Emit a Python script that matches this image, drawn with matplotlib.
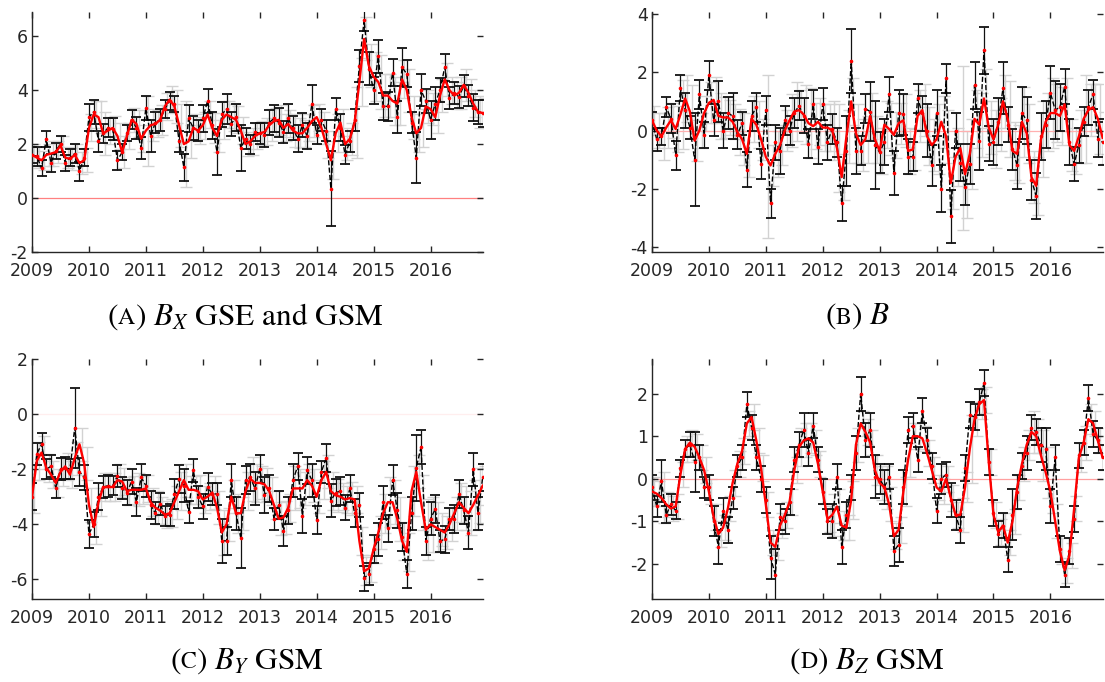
import numpy as np
import matplotlib
matplotlib.use("Agg")
import matplotlib.pyplot as plt
from matplotlib.offsetbox import TextArea, HPacker, AnnotationBbox

plt.rcParams["mathtext.fontset"] = "stix"

# monthly time grid, 2009.0 .. 2016.92
t = 2009 + np.arange(96) / 12.0
year_ticks = [2009, 2010, 2011, 2012, 2013, 2014, 2015, 2016]

# (A) Bx GSE and GSM
bx_smooth = [1.6, 1.5, 1.4, 1.6, 1.65, 1.7, 1.95, 1.5, 1.45, 1.6, 1.3, 1.4,
             2.6, 3.1, 3.0, 2.4, 2.5, 2.6, 2.3, 1.7, 2.3, 2.9, 2.75, 2.2,
             2.5, 2.7, 2.75, 2.9, 3.4, 3.65, 3.4, 2.7, 2.0, 2.1, 2.6, 2.5,
             2.7, 3.1, 2.6, 2.3, 2.9, 3.1, 3.0, 2.9, 2.5, 2.0, 2.1, 2.3,
             2.4, 2.45, 2.7, 2.85, 2.9, 2.6, 2.75, 2.5, 2.4, 2.4, 2.6, 2.85,
             3.0, 2.6, 2.0, 1.4, 2.4, 2.8, 2.0, 2.2, 2.8, 4.3, 5.9, 4.9,
             4.5, 4.3, 3.8, 3.8, 3.6, 3.5, 4.4, 4.0, 3.0, 2.4, 2.6, 3.4,
             3.3, 3.0, 3.8, 4.4, 4.0, 3.8, 3.9, 4.2, 3.9, 3.5, 3.2, 3.15]
bx_raw = [1.6, 1.55, 1.1, 2.2, 1.3, 1.75, 2.0, 1.3, 1.5, 1.65, 1.0, 1.5,
          3.0, 3.2, 2.1, 2.4, 2.6, 2.55, 1.4, 1.7, 2.4, 2.9, 2.6, 1.85,
          3.35, 2.3, 2.8, 2.9, 3.3, 3.6, 3.5, 2.1, 1.15, 2.95, 2.6, 2.5,
          2.95, 3.6, 2.7, 1.7, 3.1, 3.3, 2.75, 3.0, 1.85, 2.2, 2.0, 2.45,
          2.4, 2.35, 2.8, 2.95, 2.8, 2.45, 2.95, 2.6, 2.2, 2.7, 2.3, 3.5,
          2.35, 2.9, 2.5, 0.35, 3.3, 2.6, 1.6, 2.1, 2.9, 4.9, 6.6, 4.8,
          4.0, 5.25, 3.4, 3.4, 4.65, 3.0, 4.85, 4.6, 2.8, 1.5, 4.0, 3.6,
          2.9, 3.5, 4.0, 4.85, 3.7, 3.9, 3.75, 4.15, 3.8, 3.35, 3.2, 3.15]
bx_err = [0.3, 0.35, 0.3, 0.3, 0.35, 0.3, 0.3, 0.3, 0.3, 0.35, 0.35, 0.3,
          0.5, 0.45, 0.4, 0.35, 0.35, 0.4, 0.35, 0.3, 0.3, 0.35, 0.4, 0.4,
          0.45, 0.6, 0.4, 0.4, 0.35, 0.35, 0.3, 0.4, 0.5, 0.5, 0.45, 0.4,
          0.5, 0.45, 0.5, 0.85, 0.45, 0.55, 0.45, 0.5, 0.85, 0.4, 0.35, 0.35,
          0.4, 0.45, 0.45, 0.5, 0.55, 0.4, 0.55, 0.45, 0.5, 0.45, 0.5, 0.7,
          0.35, 0.4, 0.4, 1.4, 0.4, 0.5, 0.35, 0.4, 0.4, 0.6, 0.4, 0.6,
          0.5, 0.6, 0.5, 0.55, 0.5, 0.6, 0.7, 0.5, 0.4, 0.95, 0.6, 0.45,
          0.7, 0.6, 0.45, 0.5, 0.4, 0.4, 0.4, 0.4, 0.4, 0.5, 0.45, 0.5]
bx_err2 = [0.4, 0.4, 0.35, 0.4, 0.45, 0.4, 0.35, 0.4, 0.4, 0.4, 0.4, 0.45,
           0.5, 0.5, 0.6, 0.8, 0.5, 0.45, 0.5, 0.6, 0.5, 0.45, 0.5, 0.5,
           1.3, 0.6, 0.5, 0.55, 0.5, 0.5, 0.6, 0.8, 1.6, 0.6, 0.5, 0.5,
           0.5, 0.5, 0.55, 0.6, 0.7, 0.5, 0.5, 0.5, 0.5, 0.45, 0.5, 0.5,
           0.45, 0.5, 0.6, 0.5, 0.55, 0.5, 0.5, 0.6, 0.55, 0.5, 0.5, 0.6,
           0.5, 0.6, 0.5, 0.7, 0.7, 0.5, 0.6, 0.6, 1.3, 0.9, 0.8, 0.8,
           0.9, 1.0, 0.8, 0.8, 0.9, 0.8, 0.7, 0.8, 0.8, 0.7, 0.7, 0.6,
           0.6, 0.6, 0.6, 0.6, 0.5, 0.5, 0.6, 0.6, 0.5, 0.5, 0.6, 0.55]

# (B) B
b_smooth = [0.35, 0.0, -0.2, 0.1, 0.35, 0.05, 0.55, 1.1, 0.65, -0.35, 0.0, 0.6,
            0.95, 1.05, 0.5, 0.45, 0.45, 0.3, -0.05, -0.3, -0.8, 0.4, 0.2, -0.3,
            -0.9, -1.2, -0.8, -0.5, 0.0, 0.35, 0.65, 0.7, 0.55, 0.25, 0.15, 0.3,
            0.1, 0.1, 0.0, -0.6, -1.6, -0.2, 1.0, -0.1, -0.5, -0.3, 0.5, -0.3,
            -0.7, 0.2, 0.05, -0.15, 0.25, 0.35, -0.7, -0.65, 0.5, 0.7, -0.2, -0.5,
            -0.3, 0.3, -0.2, -1.8, -0.9, -0.6, -1.5, -0.8, 0.4, 0.2, 1.1, 0.1,
            -0.3, 0.2, 1.0, 0.4, -0.7, -0.8, 0.3, -0.1, -1.6, -1.9, -0.3, 0.3,
            0.6, 0.6, 0.5, 0.9, -0.5, -0.7, -0.2, 0.4, 0.7, 0.8, 0.4, -0.25]
b_raw = [0.35, -0.3, -0.2, 0.8, 0.4, -0.85, 1.45, 0.7, 0.1, -1.0, 1.25, -0.15,
         1.9, 0.35, 1.0, 0.0, 0.6, 0.5, -0.15, 0.25, -1.35, 0.5, 0.8, -1.15,
         0.7, -2.5, -0.4, -0.7, 0.35, 0.0, 0.6, 0.85, 0.5, -0.45, 0.9, -0.55,
         0.9, -0.4, 0.05, -0.4, -2.5, -0.7, 2.4, -0.7, -0.7, 0.75, 0.65, -0.5,
         -0.75, -0.4, 1.25, -1.45, 0.6, 0.55, -0.9, -0.9, 1.1, 0.6, 0.0, -1.2,
         0.6, -2.0, 1.8, -2.95, 0.0, -1.1, -1.95, -1.15, 1.55, -0.35, 2.75, -0.45,
         -0.4, 0.3, 1.45, 0.2, -0.65, -1.2, 0.6, 0.35, -1.7, -2.25, -0.2, 0.2,
         1.3, 0.7, 0.8, 1.5, -0.4, -1.15, -0.5, 0.3, 0.8, 1.25, -0.3, -0.4]
b_err = [0.3, 0.4, 0.3, 0.35, 0.5, 0.5, 0.45, 0.6, 0.4, 1.6, 0.5, 0.45,
         0.5, 0.55, 0.7, 0.6, 0.55, 0.8, 0.5, 0.4, 0.6, 0.5, 0.5, 0.5,
         0.5, 0.5, 0.6, 0.8, 0.5, 0.5, 0.5, 0.5, 0.6, 0.5, 0.5, 0.6,
         0.55, 0.6, 0.5, 0.5, 0.6, 1.2, 1.1, 0.8, 0.5, 0.5, 1.0, 1.5,
         0.7, 0.8, 0.6, 0.75, 0.8, 0.7, 0.6, 0.5, 0.5, 0.6, 0.9, 0.7,
         0.8, 0.8, 0.5, 0.9, 0.6, 0.65, 0.6, 0.7, 0.8, 1.0, 0.8, 0.6,
         0.8, 0.8, 0.9, 0.6, 0.7, 0.8, 0.9, 0.8, 0.7, 0.8, 0.8, 0.8,
         0.9, 1.0, 0.8, 0.6, 0.8, 0.6, 0.6, 0.5, 0.6, 0.5, 0.6, 0.8]
b_err2 = [0.5, 0.6, 0.8, 0.7, 0.6, 0.8, 1.2, 0.8, 0.9, 0.7, 0.6, 0.6,
          0.7, 0.8, 0.8, 0.7, 0.6, 0.6, 0.8, 0.9, 0.8, 0.8, 0.8, 0.7,
          2.8, 0.7, 0.8, 0.7, 0.7, 0.9, 1.0, 0.7, 1.0, 1.2, 0.8, 0.8,
          0.8, 0.8, 1.0, 1.5, 0.8, 0.9, 0.8, 1.0, 0.9, 0.8, 0.8, 0.8,
          0.8, 0.8, 0.9, 0.8, 0.7, 0.9, 0.8, 0.7, 0.9, 0.9, 1.0, 0.9,
          1.2, 0.9, 0.9, 0.9, 1.0, 2.8, 1.5, 1.2, 1.0, 1.1, 1.0, 0.9,
          1.0, 0.9, 0.9, 1.3, 1.0, 1.0, 1.2, 1.0, 0.9, 1.0, 1.3, 1.0,
          1.2, 1.0, 1.0, 0.9, 0.9, 0.8, 0.9, 1.5, 0.9, 0.8, 1.2, 0.9]

# (C) By GSM
by_smooth = [-3.0, -1.7, -1.4, -1.95, -2.2, -2.5, -2.1, -1.9, -2.2, -1.6, -1.1, -1.8,
             -3.3, -4.1, -3.2, -2.65, -2.65, -2.65, -2.4, -2.45, -2.8, -2.75, -2.75, -2.75,
             -2.7, -3.2, -3.4, -3.5, -3.65, -3.6, -3.2, -2.8, -2.4, -2.75, -2.75, -2.8,
             -3.1, -3.0, -2.85, -3.4, -4.3, -4.0, -3.0, -3.6, -3.6, -2.8, -2.35, -2.5,
             -2.5, -2.55, -2.8, -3.3, -3.8, -3.75, -3.4, -2.7, -2.7, -2.7, -2.4, -2.6,
             -3.0, -2.4, -2.1, -2.8, -2.95, -3.0, -3.1, -3.05, -3.1, -4.6, -5.7, -5.6,
             -4.9, -4.3, -3.6, -3.2, -3.2, -3.8, -4.6, -5.0, -2.8, -2.1, -3.2, -4.2,
             -4.0, -4.1, -4.2, -4.3, -4.0, -3.6, -3.2, -3.4, -3.6, -3.3, -2.95, -2.6]
by_raw = [-3.0, -1.45, -1.1, -2.0, -1.9, -2.7, -2.0, -1.95, -2.0, -0.5, -2.1, -2.3,
          -4.35, -4.0, -3.0, -2.65, -2.6, -2.6, -2.25, -2.7, -2.85, -2.45, -3.2, -2.3,
          -2.6, -3.3, -3.6, -3.25, -3.7, -3.65, -2.9, -2.35, -2.6, -3.55, -2.05, -3.0,
          -3.35, -2.65, -2.9, -2.9, -4.6, -4.6, -2.4, -3.6, -4.5, -2.4, -2.3, -2.7,
          -2.0, -2.95, -2.7, -3.8, -3.3, -4.25, -3.5, -2.4, -1.9, -3.7, -2.05, -2.4,
          -3.85, -2.1, -1.6, -3.15, -2.85, -2.8, -3.4, -2.7, -3.6, -3.3, -5.95, -5.8,
          -4.9, -4.55, -3.2, -4.15, -2.4, -3.5, -4.45, -5.8, -3.6, -1.95, -1.2, -4.6,
          -3.8, -3.45, -4.6, -4.55, -3.8, -3.8, -2.9, -3.5, -4.3, -2.0, -3.6, -2.3]
by_err = [0.5, 0.4, 0.4, 0.35, 0.4, 0.35, 0.4, 0.4, 0.35, 1.45, 0.5, 0.45,
          0.5, 0.45, 0.5, 0.4, 0.4, 0.35, 0.4, 0.4, 0.45, 0.45, 0.5, 0.5,
          0.4, 0.5, 0.4, 0.4, 0.35, 0.4, 0.55, 0.5, 0.6, 0.4, 0.4, 0.4,
          0.45, 0.5, 0.4, 0.4, 0.8, 0.5, 0.6, 0.6, 1.1, 0.5, 0.5, 0.6,
          0.5, 0.65, 0.5, 0.4, 0.5, 0.55, 0.5, 0.6, 0.5, 0.6, 0.5, 0.6,
          0.5, 0.4, 0.5, 0.6, 0.5, 0.5, 0.45, 0.5, 0.5, 0.45, 0.45, 0.4,
          0.5, 0.6, 0.6, 0.5, 0.55, 0.65, 0.5, 0.5, 0.6, 1.2, 0.6, 0.5,
          0.6, 0.5, 0.4, 0.5, 0.4, 0.5, 0.5, 0.5, 0.6, 0.6, 0.6, 0.5]
by_err2 = [0.6, 0.7, 0.6, 0.5, 0.5, 0.5, 0.5, 0.5, 0.5, 0.6, 0.6, 0.6,
           0.6, 0.6, 0.5, 0.5, 0.5, 0.5, 0.6, 0.5, 0.5, 0.5, 0.6, 0.5,
           0.5, 0.5, 0.6, 0.5, 0.5, 0.5, 0.6, 0.7, 0.6, 0.5, 0.5, 0.6,
           0.5, 0.5, 0.6, 0.6, 0.8, 0.6, 0.6, 0.7, 0.6, 0.7, 0.8, 0.7,
           0.6, 0.6, 0.5, 0.5, 0.6, 0.6, 0.5, 0.8, 0.7, 0.6, 0.6, 0.6,
           0.6, 0.7, 0.6, 0.7, 0.6, 0.5, 0.5, 0.6, 0.5, 0.5, 0.5, 0.5,
           0.5, 0.6, 0.7, 0.9, 0.8, 0.8, 0.7, 0.7, 0.9, 0.6, 1.0, 1.1,
           1.0, 0.9, 0.6, 0.6, 0.6, 0.6, 0.7, 0.8, 0.8, 0.9, 1.0, 0.7]

# (D) Bz GSM
bz_smooth = [-0.3, -0.35, -0.45, -0.6, -0.7, -0.65, 0.1, 0.7, 0.85, 0.75, 0.5, 0.2,
             -0.3, -0.9, -1.3, -1.15, -0.7, -0.1, 0.35, 0.65, 1.3, 1.45, 0.9, 0.25,
             -0.6, -1.5, -1.6, -1.1, -0.85, -0.55, 0.2, 0.75, 0.9, 0.95, 0.85, 0.35,
             -0.3, -0.95, -0.85, -0.65, -1.1, -1.15, -0.5, 0.8, 1.3, 1.1, 0.85, 0.2,
             -0.1, -0.2, -0.6, -1.35, -1.2, -0.3, 0.45, 1.0, 1.0, 0.95, 0.6, 0.2,
             -0.2, -0.3, 0.0, -0.45, -0.85, -0.85, -0.2, 0.7, 1.4, 1.75, 1.85, 0.4,
             -0.85, -1.25, -1.1, -1.5, -1.0, -0.2, 0.35, 0.8, 1.1, 1.0, 0.55, 0.15,
             -0.3, -1.0, -1.7, -2.15, -1.8, -0.7, 0.5, 0.85, 1.4, 1.3, 0.9, 0.5]
bz_raw = [-0.2, -0.65, -0.05, -0.85, -0.6, -0.75, 0.25, 0.7, 0.8, 0.4, 0.5, -0.2,
          -0.2, -1.0, -1.6, -0.75, -1.2, -0.45, 0.3, 0.5, 1.75, 1.2, 0.5, 0.0,
          -0.5, -1.85, -2.25, -0.9, -1.0, -0.55, 0.45, 0.8, 1.15, 0.6, 1.25, 0.45,
          -0.3, -1.0, -1.0, 0.05, -1.6, -0.85, -0.2, 0.6, 2.0, 0.9, 1.15, 0.05,
          0.0, -0.2, 0.05, -1.7, -1.55, -0.2, 1.15, 1.25, 0.45, 1.6, 0.9, 0.3,
          -0.75, 0.0, 0.1, -0.5, -0.85, -1.2, 0.25, 1.5, 1.45, 1.8, 2.25, 0.4,
          -0.8, -1.3, -1.1, -1.9, -0.85, -0.3, 0.3, 0.6, 1.2, 1.1, 0.8, 0.7,
          -0.65, 0.5, -1.65, -2.25, -1.7, -0.95, 0.55, 0.85, 1.9, 1.05, 0.9, 0.5]
bz_err = [0.3, 0.25, 0.5, 0.2, 0.25, 0.2, 0.2, 0.2, 0.3, 0.7, 0.3, 0.25,
          0.3, 0.35, 0.4, 0.3, 0.3, 0.25, 0.25, 0.3, 0.3, 0.3, 0.3, 0.3,
          0.3, 0.5, 0.6, 0.3, 0.3, 0.3, 0.3, 0.3, 0.4, 0.3, 0.3, 0.3,
          0.3, 0.3, 0.4, 0.3, 0.4, 0.3, 0.3, 0.4, 0.4, 0.4, 0.4, 0.5,
          0.35, 0.4, 0.3, 0.35, 0.4, 0.4, 0.3, 0.3, 0.3, 0.3, 0.3, 0.3,
          0.3, 0.35, 0.3, 0.4, 0.35, 0.3, 0.3, 0.3, 0.3, 0.3, 0.3, 0.3,
          0.3, 0.3, 0.3, 0.3, 0.6, 0.4, 0.3, 0.4, 0.3, 0.3, 0.4, 0.5,
          0.4, 0.3, 0.3, 0.3, 0.3, 0.3, 0.3, 0.3, 0.3, 0.3, 0.3, 0.3]
bz_err2 = [0.35, 0.3, 0.6, 0.3, 0.3, 0.3, 0.3, 0.3, 0.3, 0.3, 0.3, 0.3,
           0.3, 0.3, 0.3, 0.3, 0.3, 0.3, 0.3, 0.3, 0.3, 0.3, 0.3, 0.3,
           0.3, 0.3, 0.3, 0.3, 0.3, 0.3, 0.3, 0.45, 0.4, 0.35, 0.3, 0.3,
           0.3, 0.3, 0.5, 0.4, 0.35, 0.3, 0.45, 0.4, 0.3, 0.3, 0.3, 0.35,
           0.4, 0.5, 0.4, 0.3, 0.3, 0.35, 0.4, 0.3, 0.3, 0.3, 0.3, 0.3,
           0.3, 0.3, 0.3, 0.3, 0.3, 0.4, 0.35, 0.8, 0.4, 0.35, 0.3, 0.3,
           0.3, 0.3, 0.3, 0.3, 0.3, 0.3, 0.4, 0.35, 0.5, 0.4, 0.6, 0.6,
           0.5, 0.4, 0.3, 0.3, 0.3, 0.3, 0.35, 0.4, 0.35, 0.3, 0.3, 0.3]


def panel(ax, smooth, raw, err, err2, ylim, yticks, zero_color):
    ax.errorbar(t + 0.04, smooth, yerr=err2, fmt="none", ecolor="#d2d2d2",
                elinewidth=1.0, capsize=4, capthick=1.0, zorder=1)
    ax.axhline(0, color=zero_color, lw=0.9, zorder=1.5)
    ax.errorbar(t, raw, yerr=err, fmt="none", ecolor="#111111",
                elinewidth=0.9, capsize=3.5, capthick=1.3, zorder=2)
    ax.plot(t, raw, color="black", ls="--", lw=1.0, zorder=2)
    ax.plot(t, smooth, color="red", lw=1.7, zorder=3)
    ax.plot(t, raw, "o", color="red", ms=2.6, mew=0, zorder=4)

    ax.set_xlim(2009, 2016.92)
    ax.set_ylim(*ylim)
    ax.set_xticks(year_ticks)
    ax.set_xticklabels([str(y) for y in year_ticks])
    ax.set_yticks(yticks)
    ax.set_yticklabels([str(v) for v in yticks])
    for s in ["top", "right"]:
        ax.spines[s].set_visible(False)
    for s in ["left", "bottom"]:
        ax.spines[s].set_color("#262626")
        ax.spines[s].set_linewidth(1.0)
    ax.tick_params(direction="in", top=True, right=True, length=4,
                   width=1, color="#262626", labelsize=12.5,
                   labelcolor="#262626")
    ax.tick_params(axis="x", pad=7)
    ax.tick_params(axis="y", pad=3)


def caption(fig, x, y, letter, rest):
    props = dict(family="STIXGeneral", color="black")
    parts = [TextArea("(", textprops=dict(fontsize=22.5, **props)),
             TextArea(letter, textprops=dict(fontsize=17, **props)),
             TextArea(")" + rest, textprops=dict(fontsize=22.5, **props))]
    box = HPacker(children=parts, align="baseline", pad=0, sep=0)
    ab = AnnotationBbox(box, (x, y), xycoords="figure fraction",
                        frameon=False, box_alignment=(0.5, 0.5))
    fig.add_artist(ab)


fig = plt.figure(figsize=(11.05, 6.82), dpi=100)

axA = fig.add_axes([0.029, 0.6305, 0.408, 0.352])
axB = fig.add_axes([0.590, 0.6305, 0.408, 0.352])
axC = fig.add_axes([0.029, 0.122, 0.408, 0.352])
axD = fig.add_axes([0.590, 0.122, 0.408, 0.352])

panel(axA, bx_smooth, bx_raw, bx_err, bx_err2, (-2, 6.9), [-2, 0, 2, 4, 6], "#ff8080")
panel(axB, b_smooth, b_raw, b_err, b_err2, (-4.17, 4.07), [-4, -2, 0, 2, 4], "#ffb0b0")
panel(axC, by_smooth, by_raw, by_err, by_err2, (-6.7, 2.0), [-6, -4, -2, 0, 2], "#ffeeee")
panel(axD, bz_smooth, bz_raw, bz_err, bz_err2, (-2.82, 2.82), [-2, -1, 0, 1, 2], "#ffa0a0")

caption(fig, 0.222, 0.536, "A", r" $B_X$ GSE and GSM")
caption(fig, 0.776, 0.536, "B", r" $B$")
caption(fig, 0.2235, 0.031, "C", r" $B_Y$ GSM")
caption(fig, 0.785, 0.031, "D", r" $B_Z$ GSM")

fig.savefig("out.png", dpi=100)
